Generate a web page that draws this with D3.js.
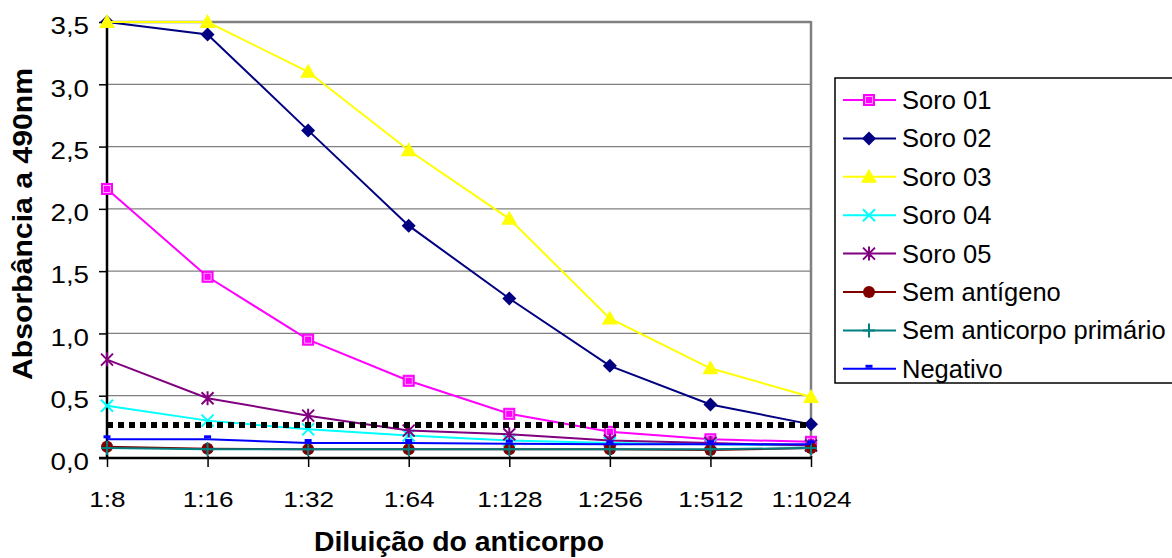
<!DOCTYPE html>
<html><head><meta charset="utf-8">
<script src="https://cdn.jsdelivr.net/npm/d3@7"></script>
<style>
html,body{margin:0;padding:0;background:#fff;}
svg{display:block;font-family:"Liberation Sans",Arial,sans-serif;}
</style></head>
<body>
<svg id="chart" width="1172" height="558"></svg>
<script>
const categories = ["1:8","1:16","1:32","1:64","1:128","1:256","1:512","1:1024"];
const yTicks = [0,0.5,1,1.5,2,2.5,3,3.5];
const seriesNames = ["Soro 01","Soro 02","Soro 03","Soro 04","Soro 05","Sem antígeno","Sem anticorpo primário","Negativo"];
const soro01 = [2.16, 1.455, 0.95, 0.62, 0.355, 0.21, 0.15, 0.13];
const soro02 = [3.5, 3.4, 2.63, 1.865, 1.28, 0.74, 0.43, 0.27];
const soro03 = [3.5, 3.5, 3.1, 2.47, 1.92, 1.12, 0.72, 0.49];
const soro04 = [0.42, 0.30, 0.23, 0.18, 0.14, 0.12, 0.11, 0.10];
const soro05 = [0.79, 0.48, 0.34, 0.22, 0.19, 0.14, 0.12, 0.10];
const semAntigeno = [0.09, 0.075, 0.07, 0.07, 0.07, 0.07, 0.065, 0.08];
const semAnticorpo = [0.08, 0.07, 0.07, 0.07, 0.07, 0.07, 0.07, 0.08];
const negativo = [0.15, 0.15, 0.12, 0.12, 0.115, 0.11, 0.11, 0.11];
const cutoff = 0.265;
const colors = ["#FF00FF","#000080","#FFFF00","#00FFFF","#800080","#800000","#008080","#0000FF"];
const markers = ["square","diamond","triangle","x","asterisk","circle","plus","dash"];
const allValues = [soro01,soro02,soro03,soro04,soro05,semAntigeno,semAnticorpo,negativo];

const svg = d3.select("#chart");
const L=107, R=811, T=22, B=458;
const x = d3.scalePoint().domain(categories).range([L,R]).padding(0);
const y = d3.scaleLinear().domain([0,3.5]).range([B,T]);

// gridlines
svg.append("g").selectAll("line").data(yTicks.filter(d=>d>0)).join("line")
  .attr("x1",L).attr("x2",R).attr("y1",d=>y(d)).attr("y2",d=>y(d))
  .attr("stroke","#808080").attr("stroke-width",d=>d===3.5?2.5:1.3);
// right border
svg.append("line").attr("x1",R).attr("x2",R).attr("y1",T-1).attr("y2",B)
  .attr("stroke","#808080").attr("stroke-width",2.5);

// axes
const yAxis = svg.append("g").attr("transform",`translate(${L},0)`)
  .call(d3.axisLeft(y).tickValues(yTicks).tickSize(8).tickPadding(10)
    .tickFormat(d=>d3.format(".1f")(d).replace(".",",")));
yAxis.select(".domain").attr("stroke","#000").attr("stroke-width",2.5).attr("d",`M0,${T}V${B}`);
yAxis.selectAll(".tick line").attr("stroke","#000").attr("stroke-width",1.5);
yAxis.selectAll(".tick text").attr("font-size",23.5).attr("fill","#000")
  .attr("font-family","Liberation Sans, Arial, sans-serif")
  .attr("dy","0.5em");
yAxis.selectAll(".tick text").each(function(){
  const t=d3.select(this); const xx=+t.attr("x");
  t.attr("transform",`translate(${xx},0) scale(1.18,1) translate(${-xx},0)`);
});

const xAxis = svg.append("g").attr("transform",`translate(0,${B})`)
  .call(d3.axisBottom(x).tickSize(9).tickPadding(0));
xAxis.select(".domain").attr("stroke","#000").attr("stroke-width",2.5).attr("d",`M${L-8},0H${R}`);
xAxis.selectAll(".tick line").attr("stroke","#000").attr("stroke-width",1.5).attr("y1",-2);
xAxis.selectAll(".tick text").attr("font-size",22.5).attr("fill","#000")
  .attr("font-family","Liberation Sans, Arial, sans-serif")
  .attr("dy",0).attr("y",49)
  .attr("transform","scale(1.16,1)");

// titles
svg.append("text").attr("x",459).attr("y",551).attr("text-anchor","middle")
  .attr("font-size",27).attr("font-weight","bold")
  .attr("textLength",290).attr("lengthAdjust","spacingAndGlyphs")
  .text("Diluição do anticorpo");
svg.append("text").attr("transform","translate(32,224) rotate(-90)").attr("text-anchor","middle")
  .attr("font-size",28).attr("font-weight","bold")
  .attr("textLength",312).attr("lengthAdjust","spacingAndGlyphs")
  .text("Absorbância a 490nm");

function drawMarker(g, type, color, cx, cy){
  switch(type){
    case "square":
      g.append("rect").attr("x",cx-5.5).attr("y",cy-5.5).attr("width",11).attr("height",11)
        .attr("fill",color).attr("stroke",color).attr("stroke-width",1);
      g.append("rect").attr("x",cx-3.5).attr("y",cy-3.5).attr("width",7).attr("height",7)
        .attr("fill","none").attr("stroke","#fff").attr("stroke-width",0.8).attr("opacity",0.8);
      break;
    case "diamond":
      g.append("path").attr("d",`M${cx},${cy-7}L${cx+7},${cy}L${cx},${cy+7}L${cx-7},${cy}Z`).attr("fill",color);
      break;
    case "triangle":
      g.append("path").attr("d",`M${cx},${cy-8}L${cx+8},${cy+6}L${cx-8},${cy+6}Z`).attr("fill",color);
      break;
    case "x":
      g.append("path").attr("d",`M${cx-6},${cy-6}L${cx+6},${cy+6}M${cx-6},${cy+6}L${cx+6},${cy-6}`)
        .attr("stroke",color).attr("stroke-width",2).attr("fill","none");
      break;
    case "asterisk":
      g.append("path").attr("d",`M${cx-6},${cy-6}L${cx+6},${cy+6}M${cx-6},${cy+6}L${cx+6},${cy-6}M${cx},${cy-7}L${cx},${cy+7}`)
        .attr("stroke",color).attr("stroke-width",2).attr("fill","none");
      break;
    case "circle":
      g.append("circle").attr("cx",cx).attr("cy",cy).attr("r",6).attr("fill",color);
      break;
    case "plus":
      g.append("path").attr("d",`M${cx-6},${cy}L${cx+6},${cy}M${cx},${cy-7}L${cx},${cy+7}`)
        .attr("stroke",color).attr("stroke-width",2).attr("fill","none");
      break;
    case "dash":
      g.append("rect").attr("x",cx-3.5).attr("y",cy-4).attr("width",7).attr("height",3).attr("fill",color);
      break;
  }
}

const line = d3.line().x((d,i)=>x(categories[i])).y(d=>y(d));
const plot = svg.append("g");
allValues.forEach((vals,si)=>{
  const g = plot.append("g");
  g.append("path").datum(vals).attr("d",line).attr("fill","none")
    .attr("stroke",colors[si]).attr("stroke-width",2);
  vals.forEach((v,i)=>drawMarker(g, markers[si], colors[si], x(categories[i]), y(v)));
});

// cutoff dotted line
svg.append("line").attr("x1",L).attr("x2",R).attr("y1",y(cutoff)).attr("y2",y(cutoff))
  .attr("stroke","#000").attr("stroke-width",6).attr("stroke-dasharray","6,5");

// legend
const lg = svg.append("g");
lg.append("rect").attr("x",835).attr("y",78).attr("width",360).attr("height",305)
  .attr("fill","#fff").attr("stroke","#000").attr("stroke-width",1.5);
seriesNames.forEach((name,i)=>{
  const cy = 100 + i*38.4;
  const g = lg.append("g");
  g.append("line").attr("x1",843).attr("x2",896).attr("y1",cy).attr("y2",cy)
    .attr("stroke",colors[i]).attr("stroke-width",2);
  drawMarker(g, markers[i], colors[i], 869, cy);
  g.append("text").attr("x",902).attr("y",cy+9).attr("font-size",25.5).attr("fill","#000").text(name);
});
</script>
</body></html>
